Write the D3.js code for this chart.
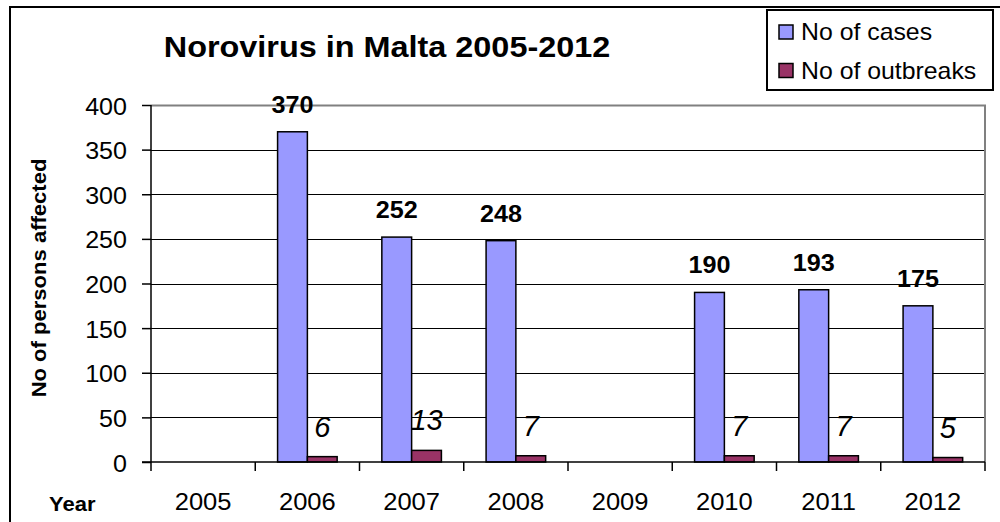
<!DOCTYPE html>
<html>
<head>
<meta charset="utf-8">
<script src="https://cdn.jsdelivr.net/npm/d3@7"></script>
<style>
  html, body { margin: 0; padding: 0; background: #fff; }
  svg { display: block; font-family: "Liberation Sans", Arial, sans-serif; }
</style>
</head>
<body>
<svg id="chart" width="1000" height="522"></svg>
<script>
// Norovirus cases and outbreaks reported in Malta, by year
const years = ["2005", "2006", "2007", "2008", "2009", "2010", "2011", "2012"];
const cases = [null, 370, 252, 248, null, 190, 193, 175];
const outbreaks = [null, 6, 13, 7, null, 7, 7, 5];
const yTicks = [0, 50, 100, 150, 200, 250, 300, 350, 400];
const seriesNames = ["No of cases", "No of outbreaks"];
const seriesColors = ["#9999FF", "#993366"];

const svg = d3.select("#chart");

// text anchored at (x, y), optionally widened horizontally
function label(parent, x, y, text, opts) {
  const o = Object.assign({ size: 20, weight: "normal", style: "normal", anchor: "middle", sx: 1, rotate: 0 }, opts);
  return parent.append("text")
    .attr("transform", `translate(${x},${y}) rotate(${o.rotate}) scale(${o.sx},1)`)
    .attr("text-anchor", o.anchor)
    .attr("font-size", o.size)
    .attr("font-weight", o.weight)
    .attr("font-style", o.style)
    .attr("fill", "#000")
    .text(text);
}

// outer chart frame
svg.append("rect")
  .attr("x", 10).attr("y", 7).attr("width", 1000).attr("height", 530)
  .attr("fill", "#fff").attr("stroke", "#000").attr("stroke-width", 2);

const plot = { left: 151, right: 985, top: 105, bottom: 462 };

const x = d3.scaleBand().domain(years).range([plot.left, plot.right]).paddingInner(0).paddingOuter(0);
const y = d3.scaleLinear().domain([0, 400]).range([plot.bottom, plot.top]);
const barW = x.bandwidth() / 3.5;

// gridlines
svg.append("g").selectAll("line")
  .data(yTicks.filter(t => t > 0 && t < 400))
  .join("line")
  .attr("x1", plot.left).attr("x2", plot.right)
  .attr("y1", d => Math.round(y(d)) + 0.5).attr("y2", d => Math.round(y(d)) + 0.5)
  .attr("stroke", "#000").attr("stroke-width", 1.2);

// plot area border (top and right)
svg.append("path")
  .attr("d", `M${plot.left},${Math.round(y(400)) + 0.5}H${plot.right}V${plot.bottom}`)
  .attr("fill", "none").attr("stroke", "#808080").attr("stroke-width", 2);

// bars
const barsG = svg.append("g");
years.forEach((yr, i) => {
  const cx = x(yr) + x.bandwidth() / 2;
  if (cases[i] != null) {
    barsG.append("rect")
      .attr("x", cx - barW).attr("y", y(cases[i]))
      .attr("width", barW).attr("height", y(0) - y(cases[i]))
      .attr("fill", seriesColors[0]).attr("stroke", "#000").attr("stroke-width", 1.5);
  }
  if (outbreaks[i] != null) {
    barsG.append("rect")
      .attr("x", cx).attr("y", y(outbreaks[i]))
      .attr("width", barW).attr("height", y(0) - y(outbreaks[i]))
      .attr("fill", seriesColors[1]).attr("stroke", "#000").attr("stroke-width", 1.5);
  }
});

// y axis
const yAxis = svg.append("g")
  .attr("transform", `translate(${plot.left},0)`)
  .call(d3.axisLeft(y).tickValues(yTicks).tickSize(9).tickFormat(""));
yAxis.selectAll("path, line").attr("stroke", "#000").attr("stroke-width", 1.5);
yAxis.select(".domain").attr("d", `M0,${y(0)}V${y(400)}`);
yTicks.forEach(t => label(svg, 127, y(t) + 9.5, String(t), { size: 23, anchor: "end", sx: 1.09 }));

// x axis
const xAxis = svg.append("g")
  .attr("transform", `translate(0,${plot.bottom})`)
  .call(d3.axisBottom(x).tickSize(0).tickFormat(""));
xAxis.select(".domain").attr("stroke", "#000").attr("stroke-width", 1.5)
  .attr("d", `M${plot.left - 9},0H${plot.right}`);
const bounds = years.map(yr => x(yr)).concat([plot.right]);
xAxis.selectAll("line.bound").data(bounds).join("line")
  .attr("class", "bound")
  .attr("x1", d => d).attr("x2", d => d).attr("y1", 0).attr("y2", 9)
  .attr("stroke", "#000").attr("stroke-width", 1.5);
years.forEach(yr => label(svg, x(yr) + x.bandwidth() / 2, 510, yr, { size: 23, sx: 1.11 }));

// value labels
years.forEach((yr, i) => {
  const cx = x(yr) + x.bandwidth() / 2;
  if (cases[i] != null) {
    label(svg, cx - barW / 2, y(cases[i]) - 19, String(cases[i]), { size: 24, weight: "bold", sx: 1.05 });
  }
  if (outbreaks[i] != null) {
    label(svg, cx + barW / 2, y(outbreaks[i]) - 20, String(outbreaks[i]), { size: 29, style: "italic" });
  }
});

// titles
label(svg, 387, 57, "Norovirus in Malta 2005-2012", { size: 30, weight: "bold", sx: 1.08 });
label(svg, 46, 278, "No of persons affected", { size: 21, weight: "bold", rotate: -90, sx: 1.05 });
label(svg, 49, 511, "Year", { size: 20, weight: "bold", anchor: "start", sx: 1.1 });

// legend
const lg = svg.append("g");
lg.append("rect")
  .attr("x", 767).attr("y", 10).attr("width", 226).attr("height", 80)
  .attr("fill", "#fff").attr("stroke", "#000").attr("stroke-width", 2);
seriesNames.forEach((name, i) => {
  const top = 25 + i * 38.5;
  lg.append("rect")
    .attr("x", 779).attr("y", top).attr("width", 14).attr("height", 14)
    .attr("fill", seriesColors[i]).attr("stroke", "#000").attr("stroke-width", 1.5);
  label(lg, 801, top + 15, name, { size: 23, anchor: "start", sx: 1.08 });
});
</script>
</body>
</html>
